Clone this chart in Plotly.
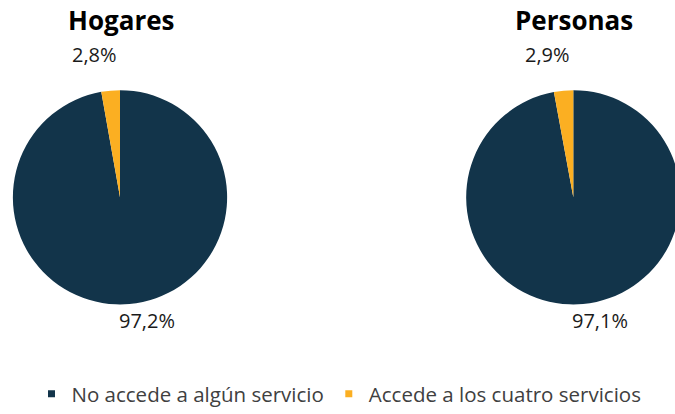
import plotly.graph_objects as go

# ---- data ----
categories = ["No accede a algún servicio", "Accede a los cuatro servicios"]
groups = ["Hogares", "Personas"]
hogares = [97.2, 2.8]
personas = [97.1, 2.9]
colors = ["#12344A", "#FBAF22"]

VIEW_W, H = 675, 414
W = 690  # canvas a bit wider than the view so the right pie is cut at the edge like the reference
FONT = "Open Sans, DejaVu Sans, sans-serif"


def px_x(x):
    return x / W


def px_y(y):
    return 1 - y / H


def fmt(v):
    return f"{v:.1f}".replace(".", ",") + "%"


fig = go.Figure()

# pie geometry (pixels in view): centre x, centre y, radius
pies = [
    (groups[0], hogares, 120.0, 200.2, 108.7),
    (groups[1], personas, 573.3, 200.2, 108.7),
]

for name, vals, cx, cy, r in pies:
    fig.add_trace(go.Pie(
        labels=categories,
        values=vals,
        name=name,
        sort=False,
        direction="clockwise",
        rotation=0,
        textinfo="none",
        hoverinfo="label+percent",
        marker=dict(colors=colors, line=dict(width=0)),
        domain=dict(x=[max(0, px_x(cx - r)), min(1, px_x(cx + r))],
                    y=[px_y(cy + r), min(1, px_y(cy - r))]),
        showlegend=False,
    ))
    # title
    fig.add_annotation(text=f"<b>{name}</b>", x=px_x(cx + 0.5), y=px_y(20),
                       xref="paper", yref="paper", showarrow=False,
                       xanchor="center", yanchor="middle",
                       font=dict(family=FONT, size=26, color="#000000"))
    # small slice label (above left)
    fig.add_annotation(text=fmt(vals[1]), x=px_x(cx - 26), y=px_y(55),
                       xref="paper", yref="paper", showarrow=False,
                       xanchor="center", yanchor="middle",
                       font=dict(family=FONT, size=20, color="#1a1a1a"))
    # big slice label (below right)
    fig.add_annotation(text=fmt(vals[0]), x=px_x(cx + 27), y=px_y(325),
                       xref="paper", yref="paper", showarrow=False,
                       xanchor="center", yanchor="middle",
                       font=dict(family=FONT, size=20, color="#1a1a1a"))

# legend via marker-only dummy traces (small squares like the reference)
for cat, col in zip(categories, colors):
    fig.add_trace(go.Scatter(
        x=[None], y=[None], mode="markers", name=cat,
        marker=dict(symbol="square", size=7, color=col),
        showlegend=True, hoverinfo="skip",
    ))

fig.update_layout(
    width=W, height=H,
    margin=dict(l=0, r=0, t=0, b=0),
    paper_bgcolor="white", plot_bgcolor="white",
    xaxis=dict(visible=False), yaxis=dict(visible=False),
    showlegend=True,
    legend=dict(orientation="h", x=px_x(339), xanchor="center",
                y=px_y(400), yanchor="middle",
                font=dict(family=FONT, size=20.5, color="#404040"),
                itemwidth=30, tracegroupgap=0, bgcolor="rgba(0,0,0,0)"),
)

fig.write_html(
    "out.html",
    config={"displayModeBar": False},
    post_script=(
        "var gd=document.getElementById('{plot_id}');"
        "var p=gd.parentElement;"
        f"p.style.width='{VIEW_W}px';p.style.height='{H}px';p.style.overflow='hidden';"
        "document.body.style.margin='0';"
        "document.body.style.overflow='hidden';"
        "document.documentElement.style.overflow='hidden';"
    ),
)
